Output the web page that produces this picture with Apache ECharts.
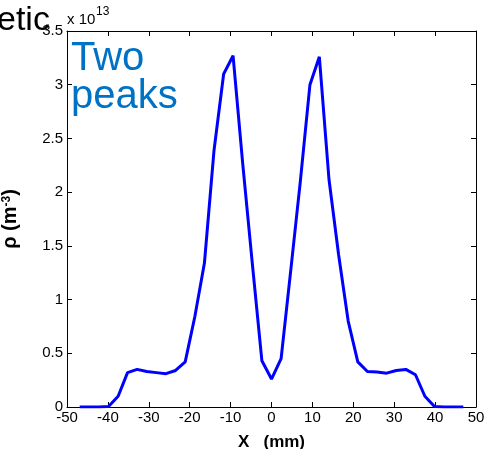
<!DOCTYPE html>
<html>
<head>
<meta charset="utf-8">
<script src="https://cdn.jsdelivr.net/npm/echarts@6/dist/echarts.min.js"></script>
<style>html,body{margin:0;padding:0;background:#fff;}#c{width:485px;height:449px;}</style>
</head>
<body>
<div id="c"></div>
<script>
// Position X (mm)
var xValues = [-46.9, -44.55, -42.2, -39.85, -37.5, -35.2, -32.85, -30.5, -28.15, -25.8,
  -23.45, -21.1, -18.75, -16.4, -14.05, -11.7, -9.4, -7.05, -4.7, -2.35,
  0, 2.35, 4.7, 7.05, 9.4, 11.7, 14.05, 16.4, 18.75, 21.1,
  23.45, 25.8, 28.15, 30.5, 32.85, 35.2, 37.5, 39.85, 42.2, 44.55, 46.9];
// Density rho in units of 1e13 m^-3
var rhoValues = [0, 0, 0, 0.005, 0.10, 0.32, 0.35, 0.33, 0.32, 0.31,
  0.34, 0.42, 0.84, 1.34, 2.39, 3.10, 3.27, 2.27, 1.34, 0.43,
  0.26, 0.45, 1.27, 2.10, 3.00, 3.26, 2.12, 1.42, 0.80, 0.42,
  0.33, 0.325, 0.315, 0.34, 0.35, 0.30, 0.10, 0.005, 0, 0, 0];
var xTicks = [-50, 50, 10];
var yTicks = [0, 3.5, 0.5];

var FONT = '"Liberation Sans", Arial, sans-serif';
var pts = xValues.map(function (x, i) { return [x, rhoValues[i]]; });

var chart = echarts.init(document.getElementById('c'), null, {renderer: 'canvas'});
var axisCommon = {
  axisLine: {show: true, onZero: false, lineStyle: {color: '#000', width: 1}},
  axisTick: {show: true, inside: true, length: 5, lineStyle: {color: '#000', width: 1}},
  splitLine: {show: false}
};
chart.setOption({
  animation: false,
  backgroundColor: '#fff',
  grid: {left: 67, right: 9, top: 31, bottom: 42, containLabel: false, outerBoundsMode: 'none'},
  xAxis: [
    Object.assign({
      type: 'value', min: xTicks[0], max: xTicks[1], interval: xTicks[2], position: 'bottom',
      axisLabel: {show: true, color: '#000', fontFamily: FONT, fontSize: 15, margin: 3},
      name: 'X   (mm)', nameLocation: 'middle', nameGap: 27,
      nameTextStyle: {color: '#000', fontFamily: FONT, fontSize: 17, fontWeight: 'bold'}
    }, axisCommon),
    Object.assign({
      type: 'value', min: xTicks[0], max: xTicks[1], interval: xTicks[2], position: 'top',
      axisLabel: {show: false}
    }, axisCommon)
  ],
  yAxis: [
    Object.assign({
      type: 'value', min: yTicks[0], max: yTicks[1], interval: yTicks[2], position: 'left',
      axisLabel: {show: true, color: '#000', fontFamily: FONT, fontSize: 15, margin: 4,
        showMaxLabel: true, showMinLabel: true},
      name: '{a|ρ (m}{s|-3}{a|)}', nameLocation: 'middle', nameGap: 28, nameRotate: 90,
      nameTextStyle: {
        color: '#000', fontFamily: FONT, fontSize: 20, fontWeight: 'bold',
        rich: {
          a: {color: '#000', fontFamily: FONT, fontSize: 20, fontWeight: 'bold', lineHeight: 20, verticalAlign: 'bottom'},
          s: {color: '#000', fontFamily: FONT, fontSize: 12, fontWeight: 'bold', lineHeight: 13, verticalAlign: 'top', padding: [0, 0, 19, 0]}
        }
      }
    }, axisCommon),
    Object.assign({
      type: 'value', min: yTicks[0], max: yTicks[1], interval: yTicks[2], position: 'right',
      axisLabel: {show: false}
    }, axisCommon)
  ],
  series: [{
    type: 'line', data: pts, xAxisIndex: 0, yAxisIndex: 0,
    showSymbol: false, symbol: 'none',
    lineStyle: {color: '#0000ff', width: 3},
    itemStyle: {color: '#0000ff'}
  }],
  graphic: [
    {type: 'text', left: -3, top: 4, z: 100,
      style: {text: 'etic', fill: '#000', font: '34px ' + FONT}},
    {type: 'text', left: 67, top: 12, z: 100,
      style: {text: 'x 10', fill: '#000', font: '15px ' + FONT}},
    {type: 'text', left: 96, top: 6, z: 100,
      style: {text: '13', fill: '#000', font: '12px ' + FONT}},
    {type: 'text', left: 71, top: 39, z: 100,
      style: {text: 'Two\npeaks', fill: '#0072c6', font: '40px ' + FONT, lineHeight: 38}}
  ]
});
</script>
</body>
</html>
